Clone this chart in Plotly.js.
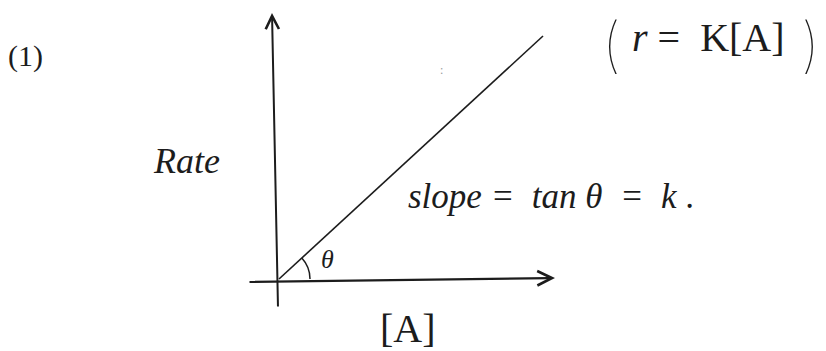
<!DOCTYPE html>
<html>
<head>
<meta charset="utf-8">
<script src="https://cdn.plot.ly/plotly-3.0.1.min.js"></script>
<style>
  html, body { margin: 0; padding: 0; background: #ffffff; }
  #chart { width: 826px; height: 351px; }
</style>
</head>
<body>
<div id="chart"></div>
<script>
// First-order kinetics: rate = k[A], a straight line through the origin.
const concentration = [0, 264];
const rate = [0, 243];

// Axis extents (head end, tail end) in the same units as the data.
const yAxisHead = [-7, 266], yAxisTail = [-1, -29];
const xAxisHead = [276, 1],  xAxisTail = [-31, -3];

const ink = '#1c1c1c';
const W = 826, H = 351;
const px = (x) => x / W;          // page x -> paper fraction
const py = (y) => 1 - y / H;      // page y -> paper fraction

// Angle marker between the x axis and the rate line.
const theta = Math.atan2(rate[1], concentration[1]);
const r = 31;
const ctrl = r / Math.cos(theta / 2);
const arcPath = `M${r},0 Q${(ctrl * Math.cos(theta / 2)).toFixed(2)},${(ctrl * Math.sin(theta / 2)).toFixed(2)} ` +
                `${(r * Math.cos(theta)).toFixed(2)},${(r * Math.sin(theta)).toFixed(2)}`;

const traces = [{
  x: concentration,
  y: rate,
  type: 'scatter',
  mode: 'lines',
  line: { color: ink, width: 1.6 },
  hoverinfo: 'skip'
}];

const hand = 'Liberation Serif, DejaVu Serif, serif';

function label(text, x, y, size, extra) {
  return Object.assign({
    text: text, xref: 'paper', yref: 'paper',
    x: px(x), y: py(y), showarrow: false,
    font: { family: hand, size: size, color: ink },
    xanchor: 'center', yanchor: 'middle'
  }, extra || {});
}

const thinParen = { family: 'Inter, Lato, Liberation Sans, sans-serif', size: 60, color: ink, weight: 100 };

const annotations = [
  // axes drawn as arrows
  { xref: 'x', yref: 'y', axref: 'x', ayref: 'y',
    x: yAxisHead[0], y: yAxisHead[1], ax: yAxisTail[0], ay: yAxisTail[1],
    showarrow: true, arrowhead: 5, arrowsize: 1.3, arrowwidth: 2, arrowcolor: ink,
    standoff: 0, startstandoff: 0, text: '' },
  { xref: 'x', yref: 'y', axref: 'x', ayref: 'y',
    x: xAxisHead[0], y: xAxisHead[1], ax: xAxisTail[0], ay: xAxisTail[1],
    showarrow: true, arrowhead: 5, arrowsize: 1.3, arrowwidth: 2.2, arrowcolor: ink,
    standoff: 0, startstandoff: 0, text: '' },

  label('(1)', 25, 56, 30),
  label('<i>Rate</i>', 186, 161, 36),
  label('<i>slope =  tan θ  =  k</i> .', 551, 196, 35),
  label('<i>θ</i>', 327, 259, 26),
  label('[A]', 408, 328, 40),
  label('(', 611, 44, 60, { font: thinParen }),
  label('<i>r</i> =  K[A]', 708, 37, 40),
  label(')', 810, 44, 60, { font: thinParen }),
  label(':', 441, 70, 12, { font: { family: hand, size: 12, color: '#9a9a9a' } })
];

const layout = {
  width: W, height: H,
  margin: { l: 0, r: 0, t: 0, b: 0 },
  paper_bgcolor: '#ffffff',
  plot_bgcolor: '#ffffff',
  showlegend: false,
  xaxis: { range: [-279, 547], visible: false, fixedrange: true },
  yaxis: { range: [-72, 279], visible: false, fixedrange: true },
  shapes: [{
    type: 'path', xref: 'x', yref: 'y', path: arcPath,
    line: { color: ink, width: 1.5 }
  }],
  annotations: annotations
};

Plotly.newPlot('chart', traces, layout, { displayModeBar: false, staticPlot: true });
</script>
</body>
</html>
